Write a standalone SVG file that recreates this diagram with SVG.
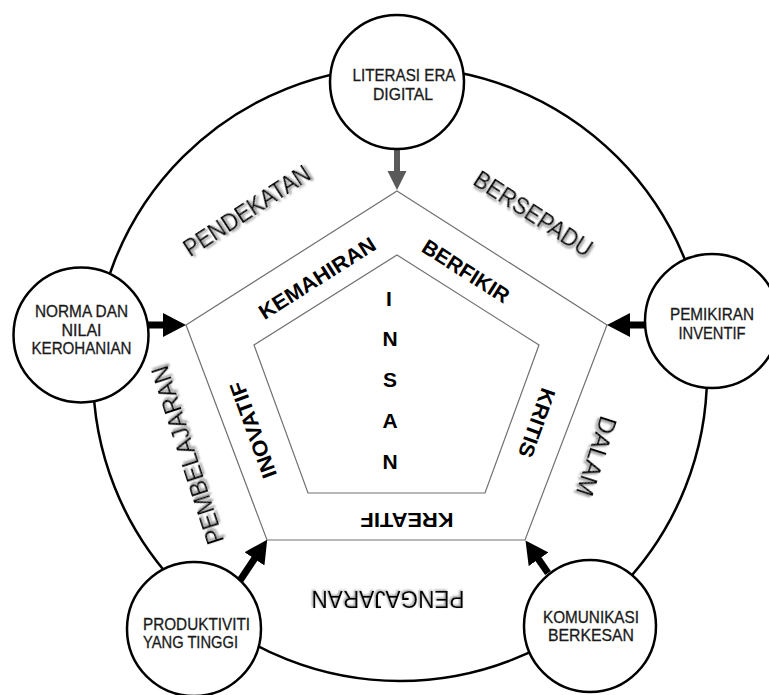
<svg xmlns="http://www.w3.org/2000/svg" width="769" height="695" viewBox="0 0 769 695">
<defs>
<style>
.ring{fill:none;stroke:#000;stroke-width:2.5}
.node{fill:#fff;stroke:#000;stroke-width:2.5}
.pent{fill:none;stroke:#707070;stroke-width:1.2}
.nt{font-family:"Liberation Sans",Arial,sans-serif;font-size:16px;fill:#1a1a1a;stroke:#1a1a1a;stroke-width:0.3;text-anchor:middle}
.bt{font-family:"Liberation Sans",Arial,sans-serif;font-size:21px;font-weight:bold;fill:#000;text-anchor:middle}
.ot{font-family:"Liberation Sans",Arial,sans-serif;font-size:23px;fill:#000;text-anchor:middle;filter:url(#sh)}
.arr{stroke:#000;stroke-width:7;fill:none}
.garr{stroke:#5a5a5a;stroke-width:6;fill:none}
</style>
<filter id="sh" x="-10%" y="-30%" width="120%" height="160%">
<feGaussianBlur in="SourceAlpha" stdDeviation="1.2"/>
<feOffset dx="1.5" dy="1.5" result="b"/>
<feFlood flood-color="#8a8a8a"/>
<feComposite in2="b" operator="in" result="s"/>
<feMerge><feMergeNode in="s"/><feMergeNode in="SourceGraphic"/></feMerge>
</filter>
<marker id="ah" markerUnits="userSpaceOnUse" markerWidth="24" markerHeight="24" refX="1" refY="12" orient="auto">
<path d="M0,0 L23,12 L0,24 z" fill="#000"/>
</marker>
<marker id="gh" markerUnits="userSpaceOnUse" markerWidth="20" markerHeight="20" refX="1" refY="9.5" orient="auto">
<path d="M0,0 L19,9.5 L0,19 z" fill="#5a5a5a"/>
</marker>
</defs>

<circle class="ring" cx="400" cy="374" r="307"/>

<g id="pentagon-outer">
<polygon class="pent" points="397,191 607,325 525,540 267,540 186,325"/>
</g>
<g id="pentagon-inner">
<polygon class="pent" points="397,255 539,345 485,493 308,493 254,345"/>
</g>

<g id="outer-words">
<text class="ot" transform="translate(247 211) rotate(-33)" y="8" textLength="146" lengthAdjust="spacingAndGlyphs">PENDEKATAN</text>
<text class="ot" transform="translate(533 214) rotate(33)" y="8" textLength="136" lengthAdjust="spacingAndGlyphs">BERSEPADU</text>
<text class="ot" transform="translate(596 456) rotate(108)" y="8" textLength="82" lengthAdjust="spacingAndGlyphs">DALAM</text>
<text class="ot" transform="translate(388 599) rotate(180)" y="8" textLength="153" lengthAdjust="spacingAndGlyphs">PENGAJARAN</text>
<text class="ot" transform="translate(188 455) rotate(-108)" y="8" textLength="186" lengthAdjust="spacingAndGlyphs">PEMBELAJARAN</text>
</g>

<g id="band-words">
<text class="bt" transform="translate(317 278) rotate(-32.4)" y="7.5" textLength="134" lengthAdjust="spacingAndGlyphs">KEMAHIRAN</text>
<text class="bt" transform="translate(466 271) rotate(32.5)" y="7.5" textLength="99" lengthAdjust="spacingAndGlyphs">BERFIKIR</text>
<text class="bt" transform="translate(537 423) rotate(110)" y="7.5" textLength="72" lengthAdjust="spacingAndGlyphs">KRITIS</text>
<text class="bt" transform="translate(407 520) rotate(180)" y="7.5" textLength="93" lengthAdjust="spacingAndGlyphs">KREATIF</text>
<text class="bt" transform="translate(253 430) rotate(-110)" y="7.5" textLength="101" lengthAdjust="spacingAndGlyphs">INOVATIF</text>
</g>

<g id="insan">
<text class="bt" x="389" y="306">I</text>
<text class="bt" x="390" y="346">N</text>
<text class="bt" x="390" y="387">S</text>
<text class="bt" x="390" y="428">A</text>
<text class="bt" x="390" y="469">N</text>
</g>

<g id="connectors">
<line class="garr" x1="397" y1="149" x2="397" y2="172" marker-end="url(#gh)"/>
<line class="arr" x1="148" y1="325" x2="164" y2="325" marker-end="url(#ah)"/>
<line class="arr" x1="645" y1="325" x2="629" y2="325" marker-end="url(#ah)"/>
<line class="arr" x1="239" y1="582" x2="255" y2="558" marker-end="url(#ah)"/>
<line class="arr" x1="548" y1="573" x2="538" y2="558.5" marker-end="url(#ah)"/>
</g>

<g id="node-literasi">
<circle class="node" cx="397" cy="82" r="67"/>
<text class="nt" x="404" y="81" textLength="103" lengthAdjust="spacingAndGlyphs">LITERASI ERA</text>
<text class="nt" x="403" y="99.5" textLength="60" lengthAdjust="spacingAndGlyphs">DIGITAL</text>
</g>
<g id="node-norma">
<circle class="node" cx="81" cy="335" r="67.5"/>
<text class="nt" x="81.5" y="317" textLength="93" lengthAdjust="spacingAndGlyphs">NORMA DAN</text>
<text class="nt" x="81.5" y="335.5" textLength="40" lengthAdjust="spacingAndGlyphs">NILAI</text>
<text class="nt" x="81.5" y="354" textLength="100" lengthAdjust="spacingAndGlyphs">KEROHANIAN</text>
</g>
<g id="node-pemikiran">
<circle class="node" cx="712" cy="321" r="67"/>
<text class="nt" x="712" y="320" textLength="84" lengthAdjust="spacingAndGlyphs">PEMIKIRAN</text>
<text class="nt" x="712" y="338.5" textLength="67" lengthAdjust="spacingAndGlyphs">INVENTIF</text>
</g>
<g id="node-produktiviti">
<circle class="node" cx="194" cy="629" r="67"/>
<text class="nt" x="143" y="629.5" style="text-anchor:start" textLength="107" lengthAdjust="spacingAndGlyphs">PRODUKTIVITI</text>
<text class="nt" x="143" y="648" style="text-anchor:start" textLength="95" lengthAdjust="spacingAndGlyphs">YANG TINGGI</text>
</g>
<g id="node-komunikasi">
<circle class="node" cx="590" cy="626" r="66"/>
<text class="nt" x="591" y="622.5" textLength="96" lengthAdjust="spacingAndGlyphs">KOMUNIKASI</text>
<text class="nt" x="591" y="641" textLength="86" lengthAdjust="spacingAndGlyphs">BERKESAN</text>
</g>
</svg>
